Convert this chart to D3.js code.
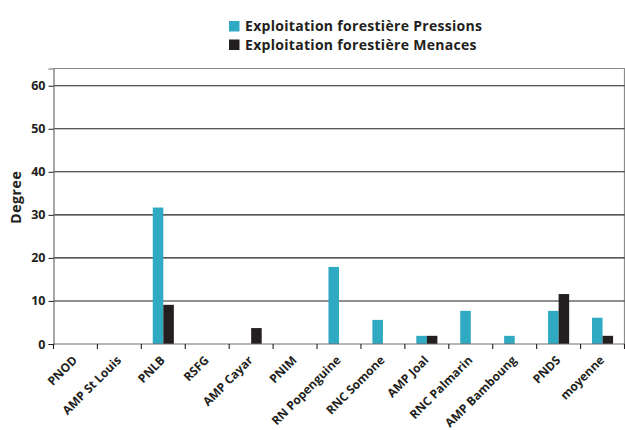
<!DOCTYPE html>
<html>
<head>
<meta charset="utf-8">
<script src="https://cdn.jsdelivr.net/npm/d3@7"></script>
<style>
  html, body { margin: 0; padding: 0; background: #fff; }
  svg { display: block; font-family: "Open Sans", "DejaVu Sans", sans-serif; }
</style>
</head>
<body>
<svg id="chart" width="625" height="430"></svg>
<script>
// Sites and the two series (degree of forest exploitation)
const categories = ["PNOD", "AMP St Louis", "PNLB", "RSFG", "AMP Cayar", "PNIM",
  "RN Popenguine", "RNC Somone", "AMP Joal", "RNC Palmarin", "AMP Bamboung", "PNDS", "moyenne"];
const pressions = [0, 0, 31.7, 0, 0, 0, 17.9, 5.6, 1.9, 7.7, 1.9, 7.7, 6.1];
const menaces   = [0, 0, 9.1, 0, 3.7, 0, 0, 0, 1.9, 0, 0, 11.6, 1.9];
const seriesNames = ["Exploitation forestière Pressions", "Exploitation forestière Menaces"];
const yTicks = [0, 10, 20, 30, 40, 50, 60];
const colors = ["#30a9c2", "#231f20"];

const svg = d3.select("#chart");
const plotL = 53.5, plotR = 624.5, plotT = 68.5, plotB = 344;

const x = d3.scaleBand().domain(categories).range([plotL, plotR]).padding(0);
const y = d3.scaleLinear().domain([0, 64]).range([plotB, plotT]);
const series = [pressions, menaces];
const barW = x.bandwidth() * 0.24;

// plot frame (top and right edges)
svg.append("path")
  .attr("d", `M${plotL},${plotT}H${plotR}V${plotB}`)
  .attr("fill", "none").attr("stroke", "#8c8c8c").attr("stroke-width", 1.2);

// horizontal gridlines
svg.append("g").selectAll("line").data(yTicks.filter(d => d > 0)).join("line")
  .attr("x1", plotL).attr("x2", plotR)
  .attr("y1", d => y(d)).attr("y2", d => y(d))
  .attr("stroke", "#231f20").attr("stroke-width", 1.1);

// bars
series.forEach((vals, si) => {
  svg.append("g").selectAll("rect").data(categories).join("rect")
    .attr("x", (c) => x(c) + x.bandwidth() / 2 - barW + si * barW)
    .attr("width", barW)
    .attr("y", (c, i) => y(vals[i]))
    .attr("height", (c, i) => plotB - y(vals[i]))
    .attr("fill", colors[si]);
});

// y axis
const yAxis = svg.append("g").attr("transform", `translate(${plotL},0)`)
  .call(d3.axisLeft(y).tickValues(yTicks).tickSize(5).tickPadding(3));
yAxis.select(".domain").attr("stroke", "#6e6e6e").attr("stroke-width", 1.2);
yAxis.selectAll(".tick line").attr("stroke", "#231f20");
yAxis.selectAll("text").attr("font-size", 12.5).attr("font-weight", 700).attr("fill", "#231f20")
  .attr("font-family", "'Open Sans', sans-serif");

// x axis with ticks at category boundaries
const xAxis = svg.append("g").attr("transform", `translate(0,${plotB})`);
xAxis.append("line").attr("x1", plotL).attr("x2", plotR).attr("y1", 0).attr("y2", 0)
  .attr("stroke", "#6e6e6e").attr("stroke-width", 1.2);
const bounds = categories.map(c => x(c)).concat([plotR]);
xAxis.selectAll("line.tk").data(bounds).join("line").attr("class", "tk")
  .attr("x1", d => d).attr("x2", d => d).attr("y1", 0).attr("y2", 5)
  .attr("stroke", "#231f20").attr("stroke-width", 1.1);
xAxis.selectAll("text").data(categories).join("text")
  .attr("transform", c => `translate(${x(c) + x.bandwidth() / 2 + 2.5},${17}) rotate(-45)`)
  .attr("text-anchor", "end")
  .attr("font-size", 12).attr("font-weight", 700).attr("fill", "#231f20")
  .text(c => c);

// y axis title
svg.append("text")
  .attr("transform", `translate(21,${(plotT + plotB) / 2 - 9}) rotate(-90)`)
  .attr("text-anchor", "middle")
  .attr("font-size", 14).attr("font-weight", 700).attr("fill", "#231f20")
  .attr("letter-spacing", 0.6)
  .text("Degree");

// legend
const legend = svg.append("g").attr("transform", "translate(229,20)");
seriesNames.forEach((name, i) => {
  const g = legend.append("g").attr("transform", `translate(0,${i * 18.5})`);
  g.append("rect").attr("width", 10.5).attr("height", 10.5).attr("y", 1).attr("fill", colors[i]);
  g.append("text").attr("x", 16).attr("y", 11)
    .attr("font-size", 14).attr("font-weight", 700).attr("fill", "#231f20")
    .attr("letter-spacing", 0.3)
    .text(name);
});
</script>
</body>
</html>
